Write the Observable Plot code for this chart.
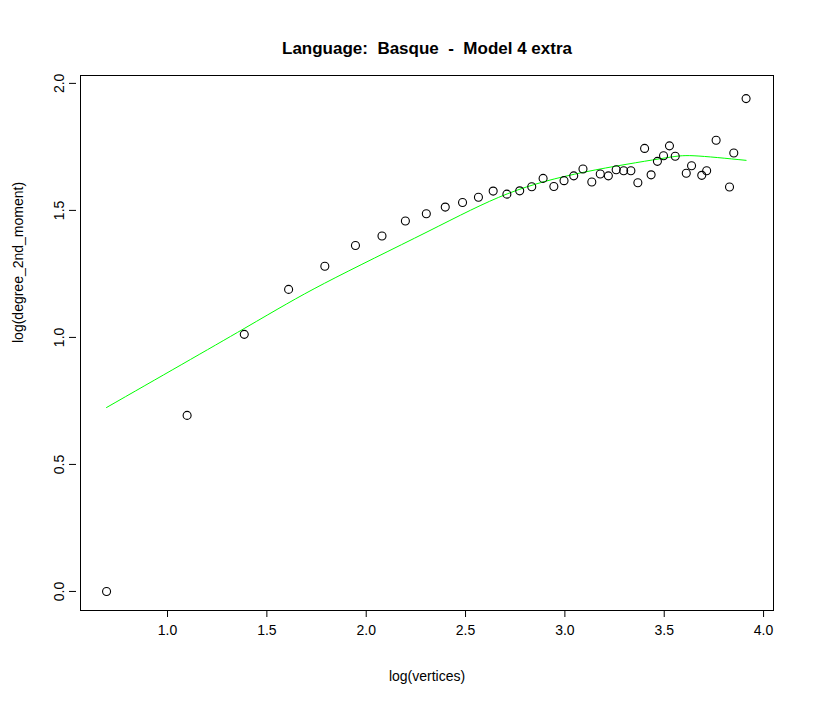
<!DOCTYPE html>
<html><head><meta charset="utf-8">
<script src="https://cdn.jsdelivr.net/npm/d3@7"></script>
<script src="https://cdn.jsdelivr.net/npm/@observablehq/plot@0.6"></script>
<style>body{margin:0;background:#fff}</style>
</head><body><div id="c"></div>
<script>
const vertices = [2,3,4,5,6,7,8,9,10,11,12,13,14,15,16,17,18,19,20,21,22,23,24,25,26,27,28,29,30,31,32,33,34,35,37,38,40,41,43,46,47,50];
const moment = [0,0.693,1.012,1.189,1.280,1.362,1.399,1.458,1.487,1.513,1.531,1.552,1.576,1.564,1.577,1.593,1.626,1.594,1.617,1.636,1.663,1.612,1.643,1.636,1.660,1.656,1.656,1.609,1.744,1.640,1.693,1.715,1.754,1.713,1.646,1.676,1.638,1.656,1.776,1.592,1.726,1.940];
const fitX = [0.693,1.386,1.79,2.306,2.713,3.1,3.477,3.65,3.912];
const fitY = [0.724,1.035,1.213,1.415,1.566,1.651,1.703,1.715,1.697];
const pts = vertices.map((v,i)=>({x:Math.log(v), y:moment[i]}));
const fit = fitX.map((x,i)=>({x, y:fitY[i]}));
const font = "Liberation Sans, Arial, sans-serif";
const p = Plot.plot({
  width:813, height:709, marginLeft:80, marginRight:40, marginTop:75, marginBottom:99,
  style:{fontFamily:font, fontSize:"14px", background:"#fff"},
  x:{domain:[0.562,4.05], label:null},
  y:{domain:[-0.075,2.031], label:null},
  marks:[
    Plot.frame({stroke:"black"}),
    Plot.axisX({ticks:[1,1.5,2,2.5,3,3.5,4], tickFormat:d3.format(".1f"), tickSize:7, tickPadding:8, fontSize:14, label:null}),
    Plot.axisY({ticks:[0,0.5,1,1.5,2], tickFormat:d3.format(".1f"), tickSize:7, tickRotate:-90, tickPadding:6, fontSize:14, label:null, textAnchor:"middle", dx:-4}),
    Plot.line(fit,{x:"x", y:"y", stroke:"#00ff00", curve:"natural", strokeWidth:1}),
    Plot.dot(pts,{x:"x", y:"y", r:4, stroke:"black", strokeWidth:1.1, fill:"none"}),
    Plot.text(["Language:  Basque  -  Model 4 extra"],{frameAnchor:"top", dy:-34, fontSize:17, fontWeight:"bold"}),
    Plot.text(["log(vertices)"],{frameAnchor:"bottom", dy:70, fontSize:14}),
    Plot.text(["log(degree_2nd_moment)"],{frameAnchor:"left", dx:-62, rotate:-90, fontSize:14})
  ]
});
document.getElementById("c").appendChild(p);
</script></body></html>
